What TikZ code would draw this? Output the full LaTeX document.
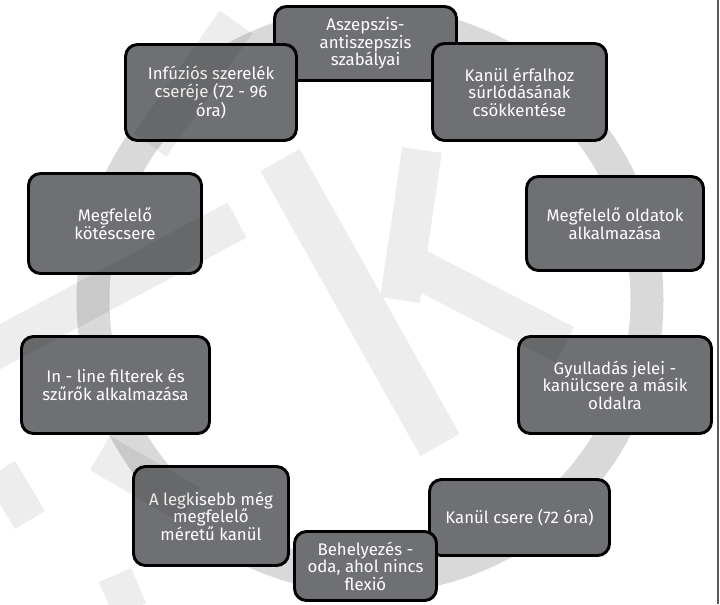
\documentclass[tikz,border=0pt]{standalone}
\usepackage{fontspec}
\setmainfont{Fira Sans}
\definecolor{boxgray}{RGB}{111,112,115}
\definecolor{ringgray}{RGB}{217,217,217}
\newcommand{\cardfont}{\fontsize{12.6}{13.2}\selectfont}
\tikzset{card/.style 2 args = {draw = black, line width = 2.2pt, fill = boxgray,
    rounded corners = 9pt, text = white, align = center, inner sep = 0,
    minimum width = #1*0.75pt, minimum height = #2*0.75pt, font = \cardfont}}
\tikzset{band/.style = {draw = black, line width = #1*0.75pt}}

\begin{document}
\begin{tikzpicture}[x = 0.75pt, y = -0.75pt]
    \useasboundingbox (0, 0) rectangle (720, 604);

    % ring behind the cards
    \draw [ringgray, line width = 24.75pt] (370, 300) circle [radius = 207.75pt];

    \node [card = {182}{74}] (asep) at (365.5, 43.5) {Aszepszis-\\antiszepszis\\szabályai};
    \node [card = {174}{97}] (kanul) at (519.5, 92) {Kanül érfalhoz\\súrlódásának\\csökkentése};
    \node [card = {177}{94}] (oldat) at (615, 223.5) {Megfelelő oldatok\\alkalmazása};
    \node [card = {193}{97}] (gyull) at (615, 385) {Gyulladás jelei -\\kanülcsere a másik\\oldalra};
    \node [card = {180}{76}] (csere) at (519.5, 517.5) {Kanül csere (72 óra)};
    \node [card = {142}{69}] (behely) at (365.5, 566) {Behelyezés -\\oda, ahol nincs\\flexió};
    \node [card = {155}{99}] (legkis) at (211, 516) {A legkisebb még\\megfelelő\\méretű kanül};
    \node [card = {188}{97}] (inline) at (115.5, 385) {In - line filterek és\\szűrők alkalmazása};
    \node [card = {173}{100}] (kotes) at (115, 223.5) {Megfelelő\\kötéscsere};
    \node [card = {171}{96}] (infuz) at (211, 92.5) {Infúziós szerelék\\cseréje (72 - 96\\óra)};

    % faint watermark
    \begin{scope}[transparency group, opacity = 0.07]
      \draw [band = 40] (236, 22) -- (150, 145);
      \draw [band = 40] (237, 220) -- (-10, 352);
      \draw [band = 45] (280, 160) -- (440, 445);
      \draw [band = 40] (422, 150) -- (400, 300);
      \draw [band = 40] (405, 262) -- (565, 345);
      \draw [band = 40] (100, 453) -- (190, 505);
      \draw [band = 35] (0, 470) -- (30, 520);
      \draw [band = 35] (115, 575) -- (130, 610);
    \end{scope}

    \draw [black!65, line width = 1.5pt] (718, 0) -- (718, 604);
\end{tikzpicture}
\end{document}
